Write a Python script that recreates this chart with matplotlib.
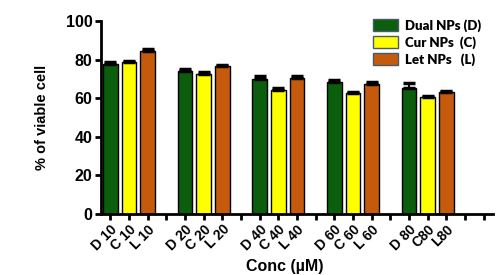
import matplotlib
matplotlib.use("Agg")
import matplotlib.pyplot as plt
import numpy as np
from matplotlib.patches import Patch

plt.rcParams['font.family'] = ['Liberation Sans', 'DejaVu Sans']

tick_labels = ["D 10", "C 10", "L 10", "", "D 20", "C 20", "L 20", "", "D 40", "C 40", "L 40", "",
               "D 60", "C 60", "L 60", "", "D 80", "C80", "L80", "", ""]
series_names = ["Dual NPs (D)", "Cur NPs  (C)", "Let NPs   (L)"]
dual_vals = [77.5, 74.0, 70.0, 68.5, 65.5]
cur_vals = [78.5, 72.5, 64.0, 62.5, 60.5]
let_vals = [84.5, 76.5, 70.5, 67.5, 63.0]
dual_err = [1.0, 1.0, 1.2, 0.8, 2.5]
cur_err = [0.8, 1.0, 1.0, 0.6, 0.8]
let_err = [1.2, 0.8, 0.8, 0.8, 0.6]

colors = ["#0b5e0b", "#ffff00", "#c55a0c"]

fig = plt.figure(figsize=(5, 2.75), dpi=100)
ax = fig.add_axes([0.202, 0.222, 0.784, 0.702])

n_groups = len(dual_vals)
for s, (vals, errs, col) in enumerate(zip([dual_vals, cur_vals, let_vals],
                                          [dual_err, cur_err, let_err], colors)):
    xs = [g * 4 + s for g in range(n_groups)]
    ax.bar(xs, vals, width=0.8, color=col, edgecolor="black", linewidth=1.0, zorder=2)
    ax.errorbar(xs, vals, yerr=[[0] * len(errs), errs], fmt="none", ecolor="black",
                elinewidth=1.5, capsize=4, capthick=2.5, zorder=3)

ax.set_xlim(-0.5, len(tick_labels) - 0.5)
ax.set_ylim(0, 100)
ax.set_yticks([0, 20, 40, 60, 80, 100])
ax.set_xticks(range(len(tick_labels)))
ax.set_xticklabels(tick_labels, rotation=45, ha="right", rotation_mode="anchor",
                   fontsize=10, fontweight="bold")
for lbl in ax.get_yticklabels():
    lbl.set_fontweight("bold")
    lbl.set_fontsize(11.5)

ax.spines["top"].set_visible(False)
ax.spines["right"].set_visible(False)
ax.spines["left"].set_linewidth(2)
ax.spines["bottom"].set_linewidth(2)
ax.tick_params(axis="both", direction="out", width=2, length=4, pad=2)

ax.set_ylabel("% of viable cell", fontsize=10.5, fontweight="bold", labelpad=12)
ax.set_xlabel("Conc (µM)", fontsize=11.5, fontweight="bold", labelpad=0)
ax.xaxis.set_label_coords(0.47, -0.235)

handles = [Patch(facecolor=c, edgecolor="#4a5a6a", linewidth=1) for c in colors]
leg = fig.legend(handles, series_names, loc="upper left", bbox_to_anchor=(0.722, 0.975),
                 frameon=False, prop={"family": "Lato", "weight": "heavy", "size": 9.5},
                 handlelength=1.9, handleheight=1.1, labelspacing=0.3, handletextpad=0.5)

fig.savefig("out.png", dpi=100)
